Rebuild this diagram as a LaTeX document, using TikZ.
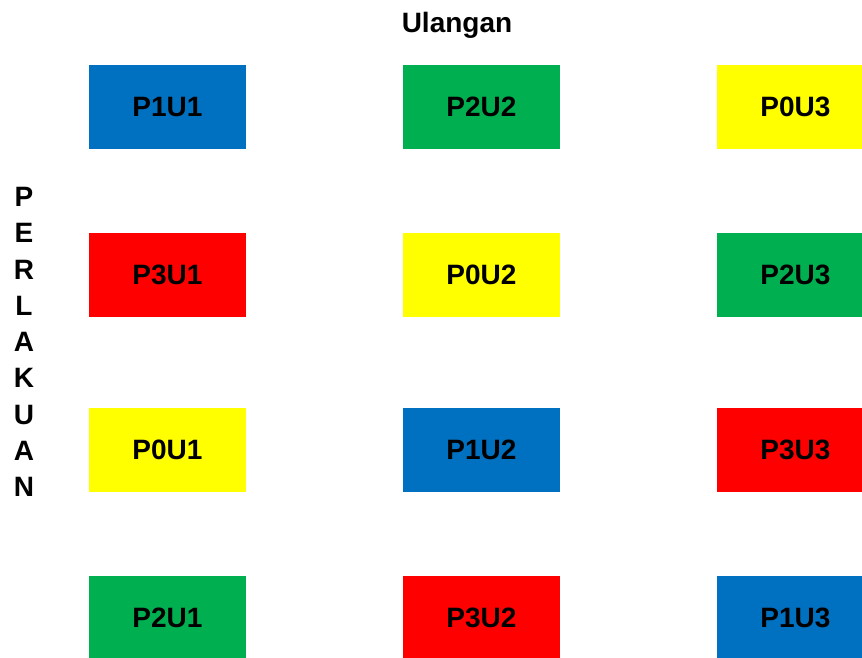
\documentclass[tikz,border=0pt]{standalone}
\usepackage{fontspec}
\setmainfont{Liberation Sans}
\usetikzlibrary{positioning}
\definecolor{pblue}{HTML}{0070C0}
\definecolor{pgreen}{HTML}{00B050}
\definecolor{pyellow}{HTML}{FFFF00}
\definecolor{pred}{HTML}{FF0000}

\begin{document}
\begin{tikzpicture}[
            x=1pt, y=-1pt,
            plot/.style={rectangle, minimum width=157pt, minimum height=84pt, inner sep=0pt, font=\fontsize{28}{34}\selectfont\bfseries},
            lbl/.style={font=\fontsize{28}{34}\selectfont\bfseries, inner sep=0pt}
        ]
            \clip (0,0) rectangle (862,658);
            \fill[white] (0,0) rectangle (862,658);
            % kolom ulangan 1
            \node[plot, fill=pblue] (p1u1) at (167.5,107) {P1U1};
            \node[plot, fill=pred] (p3u1) at (167.5,275) {P3U1};
            \node[plot, fill=pyellow] (p0u1) at (167.5,450) {P0U1};
            \node[plot, fill=pgreen] (p2u1) at (167.5,618) {P2U1};
            % kolom ulangan 2
            \node[plot, fill=pgreen] (p2u2) at (481.5,107) {P2U2};
            \node[plot, fill=pyellow] (p0u2) at (481.5,275) {P0U2};
            \node[plot, fill=pblue] (p1u2) at (481.5,450) {P1U2};
            \node[plot, fill=pred] (p3u2) at (481.5,618) {P3U2};
            % kolom ulangan 3
            \node[plot, fill=pyellow] (p0u3) at (795.5,107) {P0U3};
            \node[plot, fill=pgreen] (p2u3) at (795.5,275) {P2U3};
            \node[plot, fill=pred] (p3u3) at (795.5,450) {P3U3};
            \node[plot, fill=pblue] (p1u3) at (795.5,618) {P1U3};

            \node[lbl] (ulangan) at (457,25) {Ulangan};
            \node[lbl, align=center, font=\fontsize{28}{36.25}\selectfont\bfseries] (perlakuan) at (24,342)
                {P\\E\\R\\L\\A\\K\\U\\A\\N};
        \end{tikzpicture}
\end{document}
